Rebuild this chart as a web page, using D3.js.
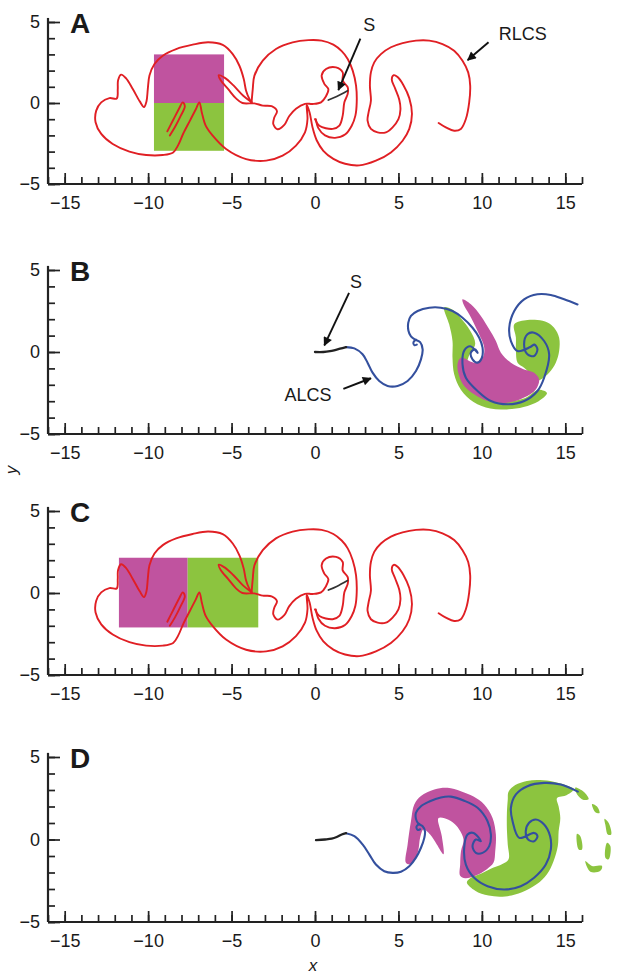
<!DOCTYPE html>
<html><head><meta charset="utf-8">
<script src="https://cdn.jsdelivr.net/npm/d3@7"></script>
<style>
body{margin:0;background:#fff;}
text{font-family:"Liberation Sans",Arial,Helvetica,sans-serif;fill:#1a1a1a;}
</style></head><body>
<svg id="c" width="617" height="977"></svg>
<script>
// ---------- axis ticks ----------
const xMajorTicks = [-15,-10,-5,0,5,10,15];
const xMinorTicks = d3.range(-16,17,1);
const yMajorTicks = [-5,0,5];
const yMinorTicks = d3.range(-5,6,1);
const panelLetters = ["A","B","C","D"];

// ---------- boxes (x0,x1,y0,y1) ----------
const boxesA = [
  {x0:-9.65,x1:-5.45,y0:0,y1:3.0,kind:"m"},
  {x0:-9.65,x1:-5.45,y0:-2.95,y1:0,kind:"g"}
];
const boxesC = [
  {x0:-11.75,x1:-7.63,y0:-2.1,y1:2.15,kind:"m"},
  {x0:-7.63,x1:-3.4,y0:-2.1,y1:2.15,kind:"g"}
];

// ---------- RLCS (red) ----------
const rlcsLong = [[-3.8,0.05],[-3.93,0.25],[-4.13,0.76],[-4.27,1.48],[-4.53,2.3],[-4.93,3.02],[-5.53,3.59],[-6.4,3.75],[-7.33,3.6],[-8.32,3.33],[-9.12,2.92],[-9.62,2.41],[-9.92,1.69],[-10.02,0.86],[-10.1,0.1],[-10.25,-0.25],[-10.5,0.1],[-10.92,0.86],[-11.32,1.52],[-11.62,1.75],[-11.8,1.4],[-11.82,0.86],[-11.88,0.28],[-12.32,0.3],[-12.81,0.04],[-13.11,-0.47],[-13.15,-1.19],[-12.81,-1.91],[-12.12,-2.53],[-11.12,-3.0],[-10.12,-3.21],[-9.12,-3.21],[-8.5,-3.05],[-8.2,-2.6],[-7.9,-1.9],[-7.5,-1.1],[-7.15,-0.4],[-6.93,0.04],[-6.78,-0.6],[-6.55,-1.4],[-6.13,-2.02],[-5.33,-2.84],[-4.13,-3.46],[-2.93,-3.56],[-1.94,-3.25],[-1.14,-2.63],[-0.6,-1.81],[-0.45,-0.99],[-0.5,-0.1],[-0.32,-0.6],[-0.15,-1.5],[0.1,-2.3],[0.5,-2.95],[1.1,-3.45],[1.8,-3.75],[2.65,-3.85],[3.65,-3.56],[4.55,-3.05],[5.25,-2.33],[5.65,-1.6],[5.81,-0.68],[5.65,0.3],[5.3,1.1],[4.95,1.6],[4.72,1.72],[4.6,1.45],[4.8,0.9],[5.05,0.2],[5.12,-0.4],[5.0,-1.0],[4.65,-1.5],[4.25,-1.81],[3.75,-1.81],[3.35,-1.6],[3.15,-1.09],[3.21,-0.58],[3.35,0.14],[3.29,1.07],[3.35,1.89],[3.55,2.51],[3.95,3.02],[4.55,3.44],[5.25,3.7],[6.05,3.85],[6.85,3.85],[7.64,3.64],[8.34,3.23],[8.84,2.61],[9.18,1.89],[9.3,1.07],[9.24,0.04],[9.04,-0.99],[8.74,-1.6],[8.34,-1.71],[7.84,-1.5],[7.41,-1.23]];
const rlcsYArm = [[-8.85,-1.75],[-8.5,-1.05],[-8.15,-0.35],[-7.92,0.04],[-7.8,-0.2],[-8.05,-0.8],[-8.4,-1.5],[-8.7,-2.0]];
const rlcsInner = [[-3.8,0.05],[-4.3,0.45],[-4.9,1.1],[-5.4,1.55],[-5.77,1.72],[-5.65,1.4],[-5.2,0.85],[-4.75,0.3],[-4.35,0.0],[-3.63,-0.02],[-3.13,-0.16],[-2.6,-0.2],[-2.28,-0.5],[-2.44,-0.9],[-2.5,-1.3],[-2.24,-1.62],[-1.84,-1.35],[-1.54,-0.8],[-1.14,-0.35],[-0.6,-0.05],[-0.14,-0.06],[0.36,0.04],[0.65,0.4],[0.8,0.85],[0.55,1.2],[0.4,1.7],[0.66,2.1],[1.26,2.2],[1.66,1.89],[1.66,1.38],[1.96,0.97],[1.96,0.56],[1.76,0.04],[1.66,-0.78],[1.46,-1.4],[1.06,-1.6],[0.26,-1.4],[0.0,-1.0]];
const rlcsMidArc = [[-3.8,0.05],[-3.73,0.86],[-3.63,1.69],[-3.13,2.61],[-2.34,3.33],[-1.34,3.74],[-0.4,3.88],[0.4,3.85],[1.1,3.6],[1.6,3.2],[1.96,2.72],[2.26,2.0],[2.46,1.07],[2.5,0.04],[2.42,-0.78],[2.2,-1.4],[1.8,-1.95],[1.2,-2.15],[0.6,-2.0],[0.2,-1.55],[0.05,-1.0]];
const sLineAC = [[0.8,0.18],[1.3,0.4],[1.95,0.76]];

// ---------- ALCS (blue) ----------
const alcsB = [[1.86,0.3],[2.36,0.22],[2.85,-0.14],[3.15,-0.65],[3.45,-1.26],[3.85,-1.77],[4.35,-2.07],[4.95,-2.07],[5.55,-1.77],[6.05,-1.16],[6.35,-0.45],[6.45,0.16],[6.3,0.6],[6.0,0.75],[5.75,0.95],[5.6,1.3],[5.59,1.79],[5.75,2.2],[6.15,2.5],[6.85,2.7],[7.54,2.7],[8.24,2.5],[8.84,2.09],[9.44,1.48],[9.84,0.87],[10.04,0.26],[10.0,-0.35],[9.74,-0.65],[9.44,-0.45],[9.34,-0.04],[9.58,0.16],[9.75,-0.05],[9.3,0.35],[8.95,0.1],[8.84,-0.75],[9.04,-1.57],[9.74,-2.38],[10.54,-2.99],[11.54,-3.19],[12.54,-2.99],[13.33,-2.38],[13.73,-1.57],[14.03,-0.14],[13.73,0.67],[13.13,1.18],[12.73,1.08],[12.53,0.47],[12.73,-0.14],[13.13,-0.24],[13.33,0.16],[13.15,0.45],[12.9,0.3],[12.14,0.06],[11.74,0.67],[11.64,1.48],[11.94,2.5],[12.53,3.21],[13.33,3.52],[14.13,3.48],[14.93,3.21],[15.73,2.9]];
const hookB = [[6.05,0.76],[5.9,0.6],[5.95,0.42],[6.1,0.45]];
const sLineB = [[0.0,0.0],[0.5,0.0],[0.9,0.05],[1.2,0.12],[1.5,0.2],[1.86,0.3]];
const alcsD = [[1.86,0.38],[2.36,0.2],[2.85,-0.3],[3.25,-0.9],[3.65,-1.52],[4.15,-1.92],[4.65,-2.02],[5.15,-1.95],[5.65,-1.62],[6.05,-1.1],[6.35,-0.5],[6.55,0.1],[6.59,0.5],[6.45,0.8],[6.2,0.95],[6.05,1.25],[6.05,1.62],[6.35,2.02],[6.85,2.3],[7.54,2.55],[8.14,2.6],[8.94,2.35],[9.74,1.92],[10.34,1.11],[10.54,0.3],[10.44,-0.4],[10.04,-0.81],[9.64,-0.81],[9.44,-0.4],[9.64,0.0],[9.94,-0.1],[9.5,0.4],[9.14,0.3],[8.94,-0.51],[9.04,-1.52],[9.54,-2.32],[10.34,-2.83],[11.34,-3.03],[12.33,-2.83],[13.13,-2.32],[13.83,-1.52],[14.13,-0.61],[14.09,0.2],[13.73,0.91],[13.23,1.21],[12.83,1.01],[12.63,0.51],[12.77,0.0],[13.13,-0.1],[13.33,0.2],[13.13,0.4],[12.24,0.1],[11.84,1.11],[11.74,1.92],[12.04,2.73],[12.73,3.23],[13.73,3.43],[14.73,3.33],[15.75,2.9]];
const hookD = [[6.25,0.95],[6.08,0.78],[6.15,0.58],[6.3,0.62]];
const sLineD = [[0.06,-0.04],[0.6,0.0],[1.0,0.05],[1.3,0.15],[1.6,0.3],[1.86,0.38]];

// ---------- regions ----------
const magentaB = [[8.84,3.21],[9.34,2.91],[9.94,2.2],[10.44,1.38],[10.84,0.67],[11.14,-0.04],[11.74,-0.65],[12.53,-1.06],[13.13,-1.26],[13.43,-1.67],[13.23,-2.28],[12.53,-2.78],[11.54,-3.09],[10.34,-2.99],[9.54,-2.58],[8.94,-2.07],[8.64,-1.46],[8.54,-0.75],[8.74,-0.35],[9.54,-0.65],[10.04,-0.35],[10.14,0.26],[9.74,1.28],[9.24,2.3],[8.9,2.91]];
const greenB = [[7.74,2.72],[8.2,2.6],[8.7,2.1],[9.3,1.3],[9.6,0.5],[9.2,-0.3],[9.0,-1.4],[9.6,-2.3],[10.6,-2.9],[11.6,-3.0],[12.6,-2.8],[13.4,-2.3],[13.9,-2.5],[13.4,-3.0],[12.5,-3.35],[11.5,-3.5],[10.5,-3.45],[9.5,-3.05],[8.74,-2.3],[8.34,-1.36],[8.24,-0.35],[8.24,0.67],[8.04,1.69]];
const greenB2 = [[11.94,1.69],[12.73,1.95],[13.33,1.95],[13.93,1.8],[14.33,1.48],[14.63,0.87],[14.63,0.06],[14.43,-0.65],[14.03,-1.26],[13.53,-1.67],[13.13,-1.77],[12.93,-1.36],[12.53,-0.96],[12.14,-0.65],[12.04,0.06],[12.04,0.87]];
const magentaD = [[5.45,-1.41],[5.55,-0.3],[5.75,1.11],[5.95,2.12],[6.35,2.63],[7.15,3.03],[7.94,3.13],[8.74,2.93],[9.5,2.6],[10.14,2.12],[10.64,1.31],[10.84,0.3],[10.8,-0.71],[10.7,-1.4],[10.3,-1.8],[9.6,-2.2],[9.0,-2.35],[8.7,-2.2],[8.7,-1.5],[8.75,-0.7],[8.9,0.0],[8.5,0.8],[8.0,1.2],[7.4,1.3],[7.6,0.2],[7.7,-0.9],[7.3,-0.3],[6.9,0.3],[6.5,0.6],[6.3,0.1],[6.2,-0.6],[6.0,-1.2],[5.7,-1.5]];
const greenD = [[11.6,2.9],[12.0,3.3],[12.7,3.55],[13.5,3.6],[14.3,3.5],[15.0,3.3],[15.5,3.05],[15.1,2.7],[14.5,2.5],[14.6,2.0],[14.7,1.3],[14.6,0.5],[14.55,-0.4],[14.3,-1.3],[13.9,-2.1],[13.3,-2.7],[12.4,-3.2],[11.4,-3.45],[10.4,-3.4],[9.6,-3.1],[9.1,-2.6],[9.3,-2.35],[10.0,-2.05],[10.7,-1.7],[11.2,-1.5],[11.6,-1.2],[11.55,-0.3],[11.5,0.6],[11.5,1.6],[11.55,2.4]];
const greenBitsD = [
  [[15.6,3.15],[16.1,2.9],[16.4,2.45],[16.1,2.4],[15.7,2.75]],
  [[16.6,2.15],[16.9,2.0],[17.05,1.6],[16.8,1.65]],
  [[17.35,1.25],[17.6,1.0],[17.75,0.3],[17.55,0.3],[17.4,0.9]],
  [[17.5,-0.2],[17.7,-0.4],[17.6,-1.2],[17.4,-1.1]],
  [[16.2,-1.3],[16.5,-1.95],[17.1,-1.9],[17.2,-1.6],[16.6,-1.6]],
  [[15.7,0.35],[15.9,0.2],[16.0,-0.6],[15.8,-0.6]]
];

// ---------- annotations ----------
const annA = [{text:"S",at:[3.25,4.45],from:[2.72,3.97],to:[1.4,0.8]},{text:"RLCS",at:[12.45,3.9],from:[10.4,3.75],to:[9.15,2.65]}];
const annB = [{text:"S",at:[2.46,3.9],from:[2.04,3.6],to:[0.56,0.4]},{text:"ALCS",at:[-0.42,-3.0],from:[1.7,-2.25],to:[3.35,-1.6]}];

// ---------- drawing ----------
const COL = {red:"#e01f24", blue:"#34509e", mag:"#c0539f", grn:"#8cc43f", ax:"#222"};
const svg = d3.select("#c");
svg.append("defs").append("marker").attr("id","arr").attr("viewBox","0 0 10 10")
  .attr("refX",9).attr("refY",5).attr("markerWidth",11).attr("markerHeight",9)
  .attr("markerUnits","userSpaceOnUse").attr("orient","auto")
  .append("path").attr("d","M0,0 L10,5 L0,10 z").attr("fill","#111");

const x = d3.scaleLinear().domain([-16,16]).range([48,582]);
const panels = [{top:22,bot:184},{top:270,bot:434},{top:511,bot:675},{top:757,bot:922}];
const fmt = d => d<0 ? "\u2212"+Math.abs(d) : String(d);

panels.forEach((p,i)=>{
  const y = d3.scaleLinear().domain([-5,5]).range([p.bot,p.top]);
  const g = svg.append("g");
  const line = d3.line().x(d=>x(d[0])).y(d=>y(d[1])).curve(d3.curveCatmullRom.alpha(0.5));
  const area = d3.line().x(d=>x(d[0])).y(d=>y(d[1])).curve(d3.curveCatmullRomClosed.alpha(0.5));
  const stroke = (data,col,w)=>g.append("path").attr("d",line(data)).attr("fill","none").attr("stroke",col).attr("stroke-width",w).attr("stroke-linejoin","round").attr("stroke-linecap","round");

  const boxes = i===0?boxesA:(i===2?boxesC:null);
  if(boxes){
    g.selectAll("rect.bx").data(boxes).join("rect")
      .attr("x",d=>x(d.x0)).attr("y",d=>y(d.y1))
      .attr("width",d=>x(d.x1)-x(d.x0)).attr("height",d=>y(d.y0)-y(d.y1))
      .attr("fill",d=>d.kind==="m"?COL.mag:COL.grn);
    [rlcsLong,rlcsYArm,rlcsInner,rlcsMidArc].forEach(s=>stroke(s,COL.red,1.9));
    stroke(sLineAC,"#333",1.7);
  }
  if(i===1){
    g.append("path").attr("d",area(greenB)).attr("fill",COL.grn);
    g.append("path").attr("d",area(greenB2)).attr("fill",COL.grn);
    g.append("path").attr("d",area(magentaB)).attr("fill",COL.mag);
    stroke(alcsB,COL.blue,2.1);
    stroke(hookB,COL.blue,2.1);
    stroke(sLineB,"#222",2.3);
  }
  if(i===3){
    g.append("path").attr("d",area(greenD)).attr("fill",COL.grn);
    greenBitsD.forEach(b=>g.append("path").attr("d",area(b)).attr("fill",COL.grn));
    g.append("path").attr("d",area(magentaD)).attr("fill",COL.mag);
    stroke(alcsD,COL.blue,2.1);
    stroke(hookD,COL.blue,2.1);
    stroke(sLineD,"#222",2.3);
  }
  const ann = i===0?annA:(i===1?annB:[]);
  ann.forEach(a=>{
    g.append("line").attr("x1",x(a.from[0])).attr("y1",y(a.from[1])).attr("x2",x(a.to[0])).attr("y2",y(a.to[1]))
      .attr("stroke","#111").attr("stroke-width",1.9).attr("marker-end","url(#arr)");
    g.append("text").attr("x",x(a.at[0])).attr("y",y(a.at[1])).attr("text-anchor","middle")
      .attr("font-size",18).text(a.text);
  });

  // axes
  const ax = svg.append("g").attr("transform",`translate(0,${p.bot})`);
  ax.call(d3.axisBottom(x).tickValues(xMinorTicks).tickSizeInner(-7).tickSizeOuter(0).tickFormat(""));
  ax.select(".domain").remove();
  const ax2 = svg.append("g").attr("transform",`translate(0,${p.bot})`);
  ax2.call(d3.axisBottom(x).tickValues(xMajorTicks).tickSizeInner(-11).tickSizeOuter(0).tickPadding(12).tickFormat(fmt));
  ax2.select(".domain").remove();
  const ay = svg.append("g").attr("transform",`translate(${x(-16)},0)`);
  ay.call(d3.axisLeft(y).tickValues(yMinorTicks).tickSizeInner(-7).tickSizeOuter(0).tickFormat(""));
  ay.select(".domain").remove();
  const ay2 = svg.append("g").attr("transform",`translate(${x(-16)},0)`);
  ay2.call(d3.axisLeft(y).tickValues(yMajorTicks).tickSizeInner(-12).tickSizeOuter(0).tickPadding(8).tickFormat(fmt));
  ay2.select(".domain").remove();
  svg.selectAll(".tick line").attr("stroke",COL.ax).attr("stroke-width",1.7);
  svg.selectAll(".tick text").attr("font-size",18).attr("fill","#1a1a1a").attr("font-family",'"Liberation Sans",Arial,sans-serif');
  svg.append("line").attr("x1",x(-16)).attr("x2",x(16)).attr("y1",p.bot).attr("y2",p.bot).attr("stroke",COL.ax).attr("stroke-width",2.2);
  svg.append("line").attr("x1",x(-16)).attr("x2",x(-16)).attr("y1",p.bot).attr("y2",y(5.25)).attr("stroke",COL.ax).attr("stroke-width",2.2);

  svg.append("text").attr("x",70).attr("y",p.top+11).attr("font-size",28).attr("font-weight","bold").text(panelLetters[i]);
});

svg.append("text").attr("x",313).attr("y",971).attr("text-anchor","middle").attr("font-size",17).attr("font-style","italic").text("x");
svg.append("text").attr("transform","translate(17,470) rotate(-90)").attr("text-anchor","middle").attr("font-size",17).attr("font-style","italic").text("y");
</script></body></html>
